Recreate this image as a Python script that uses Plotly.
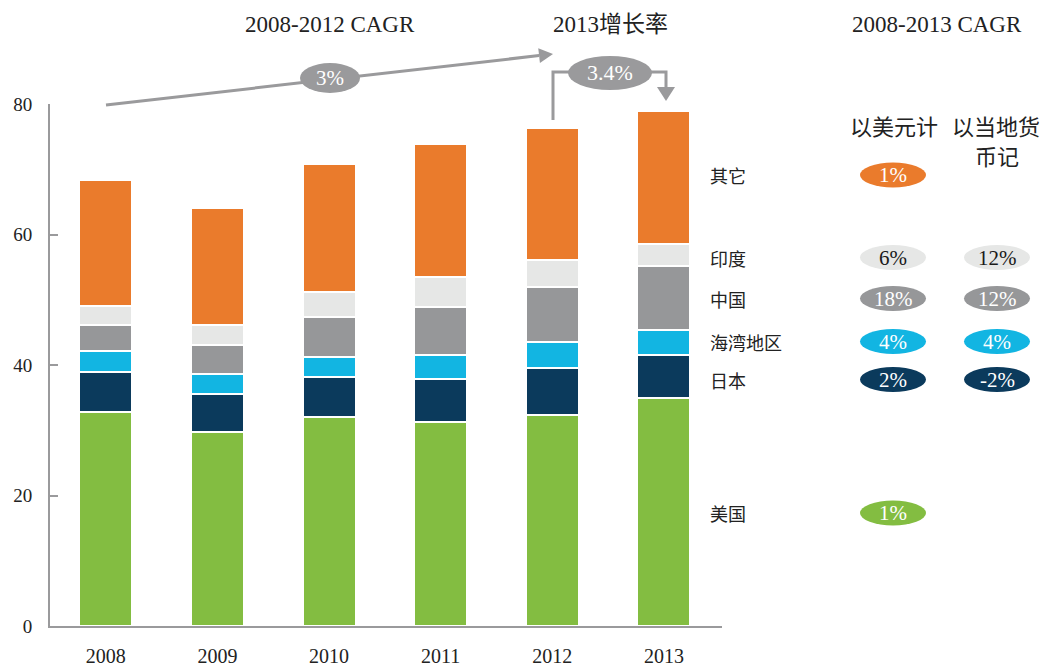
import numpy as np
import plotly.graph_objects as go

# ---- data (billions) ----
years = ["2008", "2009", "2010", "2011", "2012", "2013"]
us = [32.8, 29.7, 32.0, 31.2, 32.4, 35.0]
japan = [6.1, 5.8, 6.1, 6.6, 7.2, 6.5]
gulf = [3.2, 3.1, 3.2, 3.8, 3.9, 3.8]
china = [4.1, 4.5, 6.1, 7.3, 8.5, 9.8]
india = [2.8, 3.1, 3.8, 4.6, 4.1, 3.5]
other = [19.3, 17.9, 19.6, 20.3, 20.2, 20.4]

region_names = ["其它", "印度", "中国", "海湾地区", "日本", "美国"]
cagr_usd = ["1%", "6%", "18%", "4%", "2%", "1%"]
cagr_local = [None, "12%", "12%", "4%", "-2%", None]

cagr_2008_2012 = "3%"
growth_2013 = "3.4%"

# ---- style ----
colors = {
    "美国": "#83BD41",
    "日本": "#0B3A5C",
    "海湾地区": "#12B5E2",
    "中国": "#969799",
    "印度": "#E6E7E6",
    "其它": "#EA7B2C",
}
badge_text_color = {"印度": "#1a1a1a"}
GREY = "#9a9a9c"
SERIF = "Liberation Serif, Noto Sans CJK SC"
CJK = "Noto Sans CJK SC"

W_FIG, H_FIG = 1045, 668
L, R, T, B = 50, 323, 104, 42
PW, PH = W_FIG - L - R, H_FIG - T - B


def px(x):
    return (x - L) / PW


def py(y):
    return (H_FIG - B - y) / PH


fig = go.Figure()
series = [("美国", us), ("日本", japan), ("海湾地区", gulf),
          ("中国", china), ("印度", india), ("其它", other)]
for name, vals in series:
    fig.add_trace(go.Bar(
        x=years, y=vals, name=name,
        marker=dict(color=colors[name], line=dict(color="white", width=2)),
        hoverinfo="x+y+name",
    ))

fig.update_layout(
    width=W_FIG, height=H_FIG,
    margin=dict(l=L, r=R, t=T, b=B, pad=0),
    barmode="stack", bargap=0.525,
    plot_bgcolor="white", paper_bgcolor="white",
    showlegend=False,
    font=dict(family=SERIF, color="#222222"),
)
fig.update_xaxes(
    range=[-0.5, 5.52], showline=True, linecolor=GREY, linewidth=2,
    ticks="", showgrid=False, zeroline=False, automargin=False,
    tickfont=dict(family=SERIF, size=20, color="#222222"),
    ticklabelstandoff=11,
)
fig.update_yaxes(
    range=[0, 80], tickvals=[0, 20, 40, 60, 80], showline=True,
    linecolor=GREY, linewidth=2, ticks="inside", ticklen=8,
    tickcolor=GREY, tickwidth=2, showgrid=False, zeroline=False,
    automargin=False,
    tickfont=dict(family=SERIF, size=19, color="#222222"),
    ticklabelstandoff=12,
)

shapes = []
annotations = []


def head(tip, tail, length, half):
    tip = np.array(tip, float)
    tail = np.array(tail, float)
    d = (tip - tail) / np.linalg.norm(tip - tail)
    n = np.array([-d[1], d[0]])
    base = tip - length * d
    c1, c2 = base + half * n, base - half * n
    path = (f"M {px(tip[0])},{py(tip[1])} L {px(c1[0])},{py(c1[1])} "
            f"L {px(c2[0])},{py(c2[1])} Z")
    return path, base


def ellipse(cx, cy, w, h, color):
    shapes.append(dict(type="circle", xref="paper", yref="paper",
                       x0=px(cx - w / 2), x1=px(cx + w / 2),
                       y0=py(cy + h / 2), y1=py(cy - h / 2),
                       fillcolor=color, line=dict(width=0), layer="above"))


def text(x, y, s, size, color="#222222", family=SERIF, xanchor="center"):
    annotations.append(dict(x=px(x), y=py(y), xref="paper", yref="paper",
                            text=s, showarrow=False, xanchor=xanchor,
                            yanchor="middle",
                            font=dict(family=family, size=size, color=color)))


# 2008-2012 trend arrow
tip1, tail1 = (553, 54), (106, 105)
p1, b1 = head(tip1, tail1, 14, 7.5)
shapes.append(dict(type="line", xref="paper", yref="paper",
                   x0=px(tail1[0]), y0=py(tail1[1]), x1=px(b1[0]), y1=py(b1[1]),
                   line=dict(color=GREY, width=3), layer="above"))
shapes.append(dict(type="path", xref="paper", yref="paper", path=p1,
                   fillcolor=GREY, line=dict(width=0), layer="above"))
ellipse(330, 78, 60, 30, GREY)
text(330, 78, cagr_2008_2012, 21, "white")

# 2013 growth bracket
tip2 = (666, 101)
p2, b2 = head(tip2, (666, 72), 14, 9)
shapes.append(dict(type="path", xref="paper", yref="paper",
                   path=(f"M {px(553)},{py(120)} L {px(553)},{py(72)} "
                         f"L {px(666)},{py(72)} L {px(b2[0])},{py(b2[1])}"),
                   line=dict(color=GREY, width=3), layer="above"))
shapes.append(dict(type="path", xref="paper", yref="paper", path=p2,
                   fillcolor=GREY, line=dict(width=0), layer="above"))
ellipse(610, 73, 84, 34, GREY)
text(610, 73, growth_2013, 22, "white")

# headers
text(330, 24, "2008-2012 CAGR", 23)
text(610, 24, "2013增长率", 23)
text(937, 24, "2008-2013 CAGR", 23)
text(894, 125, "以美元计", 22, family=CJK)
text(996, 125, "以当地货", 22, family=CJK)
text(997, 155, "币记", 22, family=CJK)

# region labels and CAGR badges
row_y = [175, 257.5, 298.5, 341.5, 379.5, 513]
for name, ry, usd, loc in zip(region_names, row_y, cagr_usd, cagr_local):
    text(708, ry, name, 18, family=CJK, xanchor="left")
    tc = badge_text_color.get(name, "white")
    for cx, val in ((893, usd), (997, loc)):
        if val is None:
            continue
        ellipse(cx, ry, 66, 25, colors[name])
        text(cx, ry, val, 21, tc)

fig.update_layout(shapes=shapes, annotations=annotations)
fig.write_html("out.html")
